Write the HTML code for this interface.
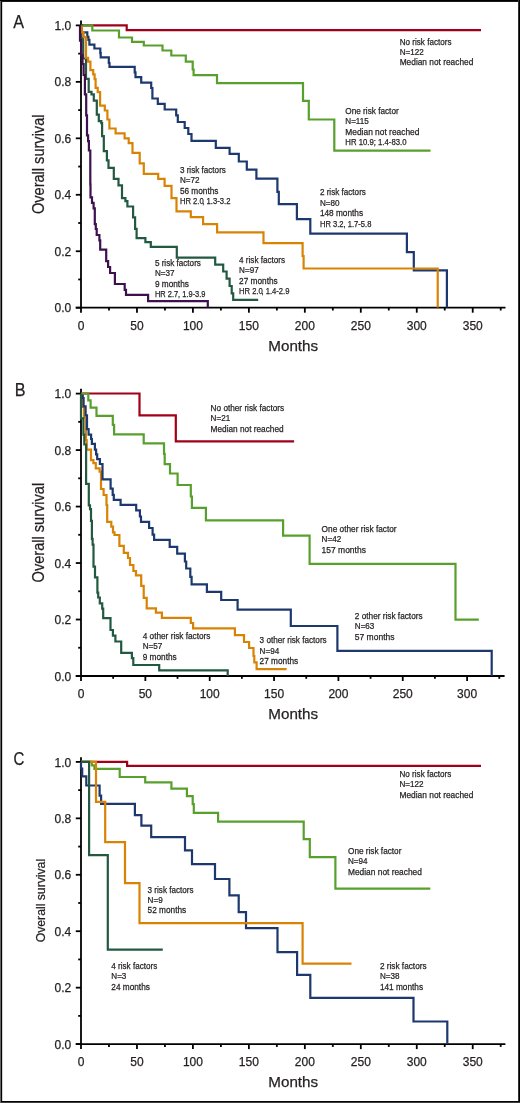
<!DOCTYPE html>
<html><head><meta charset="utf-8"><style>
html,body{margin:0;padding:0;background:#fff;}
body{width:520px;height:1103px;overflow:hidden;position:relative;}
svg{position:absolute;left:0;top:0;will-change:transform;}
svg text{font-family:"Liberation Sans", sans-serif;stroke:#231f20;stroke-width:0.25px;}
</style></head><body>
<svg width="520" height="1103" viewBox="0 0 520 1103">
<line x1="81.0" y1="20.5" x2="81.0" y2="308.59999999999997" stroke="#000" stroke-width="1.8"/>
<line x1="75.8" y1="307.7" x2="505.5" y2="307.7" stroke="#000" stroke-width="1.8"/>
<line x1="75.8" y1="307.70" x2="81.0" y2="307.70" stroke="#000" stroke-width="1.8"/>
<text x="71.3" y="312.30" text-anchor="end" font-size="12" fill="#231f20">0.0</text>
<line x1="78.2" y1="279.47" x2="81.0" y2="279.47" stroke="#000" stroke-width="1.8"/>
<line x1="75.8" y1="251.24" x2="81.0" y2="251.24" stroke="#000" stroke-width="1.8"/>
<text x="71.3" y="255.84" text-anchor="end" font-size="12" fill="#231f20">0.2</text>
<line x1="78.2" y1="223.01" x2="81.0" y2="223.01" stroke="#000" stroke-width="1.8"/>
<line x1="75.8" y1="194.78" x2="81.0" y2="194.78" stroke="#000" stroke-width="1.8"/>
<text x="71.3" y="199.38" text-anchor="end" font-size="12" fill="#231f20">0.4</text>
<line x1="78.2" y1="166.55" x2="81.0" y2="166.55" stroke="#000" stroke-width="1.8"/>
<line x1="75.8" y1="138.32" x2="81.0" y2="138.32" stroke="#000" stroke-width="1.8"/>
<text x="71.3" y="142.92" text-anchor="end" font-size="12" fill="#231f20">0.6</text>
<line x1="78.2" y1="110.09" x2="81.0" y2="110.09" stroke="#000" stroke-width="1.8"/>
<line x1="75.8" y1="81.86" x2="81.0" y2="81.86" stroke="#000" stroke-width="1.8"/>
<text x="71.3" y="86.46" text-anchor="end" font-size="12" fill="#231f20">0.8</text>
<line x1="78.2" y1="53.63" x2="81.0" y2="53.63" stroke="#000" stroke-width="1.8"/>
<line x1="75.8" y1="25.40" x2="81.0" y2="25.40" stroke="#000" stroke-width="1.8"/>
<text x="71.3" y="30.00" text-anchor="end" font-size="12" fill="#231f20">1.0</text>
<line x1="81.00" y1="307.7" x2="81.00" y2="312.7" stroke="#000" stroke-width="1.8"/>
<text x="81.00" y="329.50" text-anchor="middle" font-size="12" fill="#231f20">0</text>
<line x1="108.98" y1="307.7" x2="108.98" y2="310.5" stroke="#000" stroke-width="1.8"/>
<line x1="136.96" y1="307.7" x2="136.96" y2="312.7" stroke="#000" stroke-width="1.8"/>
<text x="136.96" y="329.50" text-anchor="middle" font-size="12" fill="#231f20">50</text>
<line x1="164.94" y1="307.7" x2="164.94" y2="310.5" stroke="#000" stroke-width="1.8"/>
<line x1="192.92" y1="307.7" x2="192.92" y2="312.7" stroke="#000" stroke-width="1.8"/>
<text x="192.92" y="329.50" text-anchor="middle" font-size="12" fill="#231f20">100</text>
<line x1="220.90" y1="307.7" x2="220.90" y2="310.5" stroke="#000" stroke-width="1.8"/>
<line x1="248.88" y1="307.7" x2="248.88" y2="312.7" stroke="#000" stroke-width="1.8"/>
<text x="248.88" y="329.50" text-anchor="middle" font-size="12" fill="#231f20">150</text>
<line x1="276.86" y1="307.7" x2="276.86" y2="310.5" stroke="#000" stroke-width="1.8"/>
<line x1="304.84" y1="307.7" x2="304.84" y2="312.7" stroke="#000" stroke-width="1.8"/>
<text x="304.84" y="329.50" text-anchor="middle" font-size="12" fill="#231f20">200</text>
<line x1="332.82" y1="307.7" x2="332.82" y2="310.5" stroke="#000" stroke-width="1.8"/>
<line x1="360.80" y1="307.7" x2="360.80" y2="312.7" stroke="#000" stroke-width="1.8"/>
<text x="360.80" y="329.50" text-anchor="middle" font-size="12" fill="#231f20">250</text>
<line x1="388.78" y1="307.7" x2="388.78" y2="310.5" stroke="#000" stroke-width="1.8"/>
<line x1="416.76" y1="307.7" x2="416.76" y2="312.7" stroke="#000" stroke-width="1.8"/>
<text x="416.76" y="329.50" text-anchor="middle" font-size="12" fill="#231f20">300</text>
<line x1="444.74" y1="307.7" x2="444.74" y2="310.5" stroke="#000" stroke-width="1.8"/>
<line x1="472.72" y1="307.7" x2="472.72" y2="312.7" stroke="#000" stroke-width="1.8"/>
<text x="472.72" y="329.50" text-anchor="middle" font-size="12" fill="#231f20">350</text>
<line x1="500.70" y1="307.7" x2="500.70" y2="310.5" stroke="#000" stroke-width="1.8"/>
<text x="13.200000000000001" y="28.0" font-size="18" fill="#231f20" textLength="10.8" lengthAdjust="spacingAndGlyphs">A</text>
<text x="293.2" y="350.6" text-anchor="middle" font-size="15.2" fill="#231f20">Months</text>
<text transform="translate(44.0,164.3) rotate(-90)" x="-49.80" font-size="15.6" fill="#231f20" textLength="99.6" lengthAdjust="spacingAndGlyphs">Overall survival</text>
<line x1="81.0" y1="388.8" x2="81.0" y2="676.9" stroke="#000" stroke-width="1.8"/>
<line x1="75.8" y1="676.0" x2="504.6" y2="676.0" stroke="#000" stroke-width="1.8"/>
<line x1="75.8" y1="676.00" x2="81.0" y2="676.00" stroke="#000" stroke-width="1.8"/>
<text x="71.3" y="680.60" text-anchor="end" font-size="12" fill="#231f20">0.0</text>
<line x1="78.2" y1="647.76" x2="81.0" y2="647.76" stroke="#000" stroke-width="1.8"/>
<line x1="75.8" y1="619.52" x2="81.0" y2="619.52" stroke="#000" stroke-width="1.8"/>
<text x="71.3" y="624.12" text-anchor="end" font-size="12" fill="#231f20">0.2</text>
<line x1="78.2" y1="591.28" x2="81.0" y2="591.28" stroke="#000" stroke-width="1.8"/>
<line x1="75.8" y1="563.04" x2="81.0" y2="563.04" stroke="#000" stroke-width="1.8"/>
<text x="71.3" y="567.64" text-anchor="end" font-size="12" fill="#231f20">0.4</text>
<line x1="78.2" y1="534.80" x2="81.0" y2="534.80" stroke="#000" stroke-width="1.8"/>
<line x1="75.8" y1="506.56" x2="81.0" y2="506.56" stroke="#000" stroke-width="1.8"/>
<text x="71.3" y="511.16" text-anchor="end" font-size="12" fill="#231f20">0.6</text>
<line x1="78.2" y1="478.32" x2="81.0" y2="478.32" stroke="#000" stroke-width="1.8"/>
<line x1="75.8" y1="450.08" x2="81.0" y2="450.08" stroke="#000" stroke-width="1.8"/>
<text x="71.3" y="454.68" text-anchor="end" font-size="12" fill="#231f20">0.8</text>
<line x1="78.2" y1="421.84" x2="81.0" y2="421.84" stroke="#000" stroke-width="1.8"/>
<line x1="75.8" y1="393.60" x2="81.0" y2="393.60" stroke="#000" stroke-width="1.8"/>
<text x="71.3" y="398.20" text-anchor="end" font-size="12" fill="#231f20">1.0</text>
<line x1="81.00" y1="676.0" x2="81.00" y2="681.0" stroke="#000" stroke-width="1.8"/>
<text x="81.00" y="697.80" text-anchor="middle" font-size="12" fill="#231f20">0</text>
<line x1="113.17" y1="676.0" x2="113.17" y2="678.8" stroke="#000" stroke-width="1.8"/>
<line x1="145.35" y1="676.0" x2="145.35" y2="681.0" stroke="#000" stroke-width="1.8"/>
<text x="145.35" y="697.80" text-anchor="middle" font-size="12" fill="#231f20">50</text>
<line x1="177.52" y1="676.0" x2="177.52" y2="678.8" stroke="#000" stroke-width="1.8"/>
<line x1="209.70" y1="676.0" x2="209.70" y2="681.0" stroke="#000" stroke-width="1.8"/>
<text x="209.70" y="697.80" text-anchor="middle" font-size="12" fill="#231f20">100</text>
<line x1="241.88" y1="676.0" x2="241.88" y2="678.8" stroke="#000" stroke-width="1.8"/>
<line x1="274.05" y1="676.0" x2="274.05" y2="681.0" stroke="#000" stroke-width="1.8"/>
<text x="274.05" y="697.80" text-anchor="middle" font-size="12" fill="#231f20">150</text>
<line x1="306.23" y1="676.0" x2="306.23" y2="678.8" stroke="#000" stroke-width="1.8"/>
<line x1="338.40" y1="676.0" x2="338.40" y2="681.0" stroke="#000" stroke-width="1.8"/>
<text x="338.40" y="697.80" text-anchor="middle" font-size="12" fill="#231f20">200</text>
<line x1="370.57" y1="676.0" x2="370.57" y2="678.8" stroke="#000" stroke-width="1.8"/>
<line x1="402.75" y1="676.0" x2="402.75" y2="681.0" stroke="#000" stroke-width="1.8"/>
<text x="402.75" y="697.80" text-anchor="middle" font-size="12" fill="#231f20">250</text>
<line x1="434.92" y1="676.0" x2="434.92" y2="678.8" stroke="#000" stroke-width="1.8"/>
<line x1="467.10" y1="676.0" x2="467.10" y2="681.0" stroke="#000" stroke-width="1.8"/>
<text x="467.10" y="697.80" text-anchor="middle" font-size="12" fill="#231f20">300</text>
<line x1="499.27" y1="676.0" x2="499.27" y2="678.8" stroke="#000" stroke-width="1.8"/>
<text x="14.8" y="396.2" font-size="18" fill="#231f20" textLength="10.8" lengthAdjust="spacingAndGlyphs">B</text>
<text x="293.2" y="719.1" text-anchor="middle" font-size="15.2" fill="#231f20">Months</text>
<text transform="translate(44.0,532.6) rotate(-90)" x="-49.80" font-size="15.6" fill="#231f20" textLength="99.6" lengthAdjust="spacingAndGlyphs">Overall survival</text>
<line x1="81.0" y1="757.3" x2="81.0" y2="1045.0" stroke="#000" stroke-width="1.8"/>
<line x1="75.8" y1="1044.1" x2="505.4" y2="1044.1" stroke="#000" stroke-width="1.8"/>
<line x1="75.8" y1="1044.10" x2="81.0" y2="1044.10" stroke="#000" stroke-width="1.8"/>
<text x="71.3" y="1048.70" text-anchor="end" font-size="12" fill="#231f20">0.0</text>
<line x1="78.2" y1="1015.88" x2="81.0" y2="1015.88" stroke="#000" stroke-width="1.8"/>
<line x1="75.8" y1="987.66" x2="81.0" y2="987.66" stroke="#000" stroke-width="1.8"/>
<text x="71.3" y="992.26" text-anchor="end" font-size="12" fill="#231f20">0.2</text>
<line x1="78.2" y1="959.44" x2="81.0" y2="959.44" stroke="#000" stroke-width="1.8"/>
<line x1="75.8" y1="931.22" x2="81.0" y2="931.22" stroke="#000" stroke-width="1.8"/>
<text x="71.3" y="935.82" text-anchor="end" font-size="12" fill="#231f20">0.4</text>
<line x1="78.2" y1="903.00" x2="81.0" y2="903.00" stroke="#000" stroke-width="1.8"/>
<line x1="75.8" y1="874.78" x2="81.0" y2="874.78" stroke="#000" stroke-width="1.8"/>
<text x="71.3" y="879.38" text-anchor="end" font-size="12" fill="#231f20">0.6</text>
<line x1="78.2" y1="846.56" x2="81.0" y2="846.56" stroke="#000" stroke-width="1.8"/>
<line x1="75.8" y1="818.34" x2="81.0" y2="818.34" stroke="#000" stroke-width="1.8"/>
<text x="71.3" y="822.94" text-anchor="end" font-size="12" fill="#231f20">0.8</text>
<line x1="78.2" y1="790.12" x2="81.0" y2="790.12" stroke="#000" stroke-width="1.8"/>
<line x1="75.8" y1="761.90" x2="81.0" y2="761.90" stroke="#000" stroke-width="1.8"/>
<text x="71.3" y="766.50" text-anchor="end" font-size="12" fill="#231f20">1.0</text>
<line x1="81.00" y1="1044.1" x2="81.00" y2="1049.1" stroke="#000" stroke-width="1.8"/>
<text x="81.00" y="1065.90" text-anchor="middle" font-size="12" fill="#231f20">0</text>
<line x1="108.98" y1="1044.1" x2="108.98" y2="1046.8999999999999" stroke="#000" stroke-width="1.8"/>
<line x1="136.96" y1="1044.1" x2="136.96" y2="1049.1" stroke="#000" stroke-width="1.8"/>
<text x="136.96" y="1065.90" text-anchor="middle" font-size="12" fill="#231f20">50</text>
<line x1="164.94" y1="1044.1" x2="164.94" y2="1046.8999999999999" stroke="#000" stroke-width="1.8"/>
<line x1="192.92" y1="1044.1" x2="192.92" y2="1049.1" stroke="#000" stroke-width="1.8"/>
<text x="192.92" y="1065.90" text-anchor="middle" font-size="12" fill="#231f20">100</text>
<line x1="220.90" y1="1044.1" x2="220.90" y2="1046.8999999999999" stroke="#000" stroke-width="1.8"/>
<line x1="248.88" y1="1044.1" x2="248.88" y2="1049.1" stroke="#000" stroke-width="1.8"/>
<text x="248.88" y="1065.90" text-anchor="middle" font-size="12" fill="#231f20">150</text>
<line x1="276.86" y1="1044.1" x2="276.86" y2="1046.8999999999999" stroke="#000" stroke-width="1.8"/>
<line x1="304.84" y1="1044.1" x2="304.84" y2="1049.1" stroke="#000" stroke-width="1.8"/>
<text x="304.84" y="1065.90" text-anchor="middle" font-size="12" fill="#231f20">200</text>
<line x1="332.82" y1="1044.1" x2="332.82" y2="1046.8999999999999" stroke="#000" stroke-width="1.8"/>
<line x1="360.80" y1="1044.1" x2="360.80" y2="1049.1" stroke="#000" stroke-width="1.8"/>
<text x="360.80" y="1065.90" text-anchor="middle" font-size="12" fill="#231f20">250</text>
<line x1="388.78" y1="1044.1" x2="388.78" y2="1046.8999999999999" stroke="#000" stroke-width="1.8"/>
<line x1="416.76" y1="1044.1" x2="416.76" y2="1049.1" stroke="#000" stroke-width="1.8"/>
<text x="416.76" y="1065.90" text-anchor="middle" font-size="12" fill="#231f20">300</text>
<line x1="444.74" y1="1044.1" x2="444.74" y2="1046.8999999999999" stroke="#000" stroke-width="1.8"/>
<line x1="472.72" y1="1044.1" x2="472.72" y2="1049.1" stroke="#000" stroke-width="1.8"/>
<text x="472.72" y="1065.90" text-anchor="middle" font-size="12" fill="#231f20">350</text>
<line x1="500.70" y1="1044.1" x2="500.70" y2="1046.8999999999999" stroke="#000" stroke-width="1.8"/>
<text x="13.6" y="764.9" font-size="18" fill="#231f20" textLength="10.8" lengthAdjust="spacingAndGlyphs">C</text>
<text x="293.2" y="1087.3" text-anchor="middle" font-size="15.2" fill="#231f20">Months</text>
<text transform="translate(44.7,900.6) rotate(-90)" x="-41.70" font-size="12.8" fill="#231f20" textLength="83.4" lengthAdjust="spacingAndGlyphs">Overall survival</text>
<path d="M81.00,25.40 L126.70,25.40 L126.70,30.10 L481.00,30.10" fill="none" stroke="#a00018" stroke-width="2.2" stroke-linejoin="miter" stroke-linecap="butt"/>
<path d="M81.00,25.30 L92.30,25.30 L92.30,30.50 L119.00,30.50 L119.00,37.50 L132.00,37.50 L132.00,41.80 L143.80,41.80 L143.80,45.50 L162.50,45.50 L162.50,50.50 L171.30,50.50 L171.30,55.50 L185.80,55.50 L185.80,61.60 L192.70,61.60 L192.70,69.50 L193.60,69.50 L193.60,75.10 L217.00,75.10 L217.00,83.20 L303.00,83.20 L303.00,100.80 L308.80,100.80 L308.80,119.50 L334.30,119.50 L334.30,150.60 L430.50,150.60" fill="none" stroke="#58a02d" stroke-width="2.2" stroke-linejoin="miter" stroke-linecap="butt"/>
<path d="M81.00,25.40 L81.50,25.40 L81.50,32.30 L87.30,32.30 L87.30,36.80 L88.40,36.80 L88.40,39.90 L89.40,39.90 L89.40,44.70 L94.40,44.70 L94.40,48.50 L100.30,48.50 L100.30,53.20 L100.70,53.20 L100.70,57.40 L108.80,57.40 L108.80,63.00 L109.50,63.00 L109.50,66.80 L134.70,66.80 L134.70,72.30 L135.50,72.30 L135.50,77.20 L141.20,77.20 L141.20,82.60 L151.20,82.60 L151.20,88.00 L152.40,88.00 L152.40,98.50 L157.80,98.50 L157.80,103.80 L164.70,103.80 L164.70,109.50 L176.20,109.50 L176.20,115.40 L177.80,115.40 L177.80,122.00 L184.70,122.00 L184.70,128.00 L188.30,128.00 L188.30,134.00 L191.50,134.00 L191.50,140.80 L215.80,140.80 L215.80,147.80 L229.60,147.80 L229.60,153.80 L238.80,153.80 L238.80,161.50 L246.80,161.50 L246.80,169.60 L256.40,169.60 L256.40,178.60 L277.40,178.60 L277.40,191.80 L278.80,191.80 L278.80,204.20 L296.90,204.20 L296.90,219.20 L310.30,219.20 L310.30,233.60 L406.90,233.60 L406.90,252.20 L413.80,252.20 L413.80,270.40 L446.90,270.40 L446.90,307.60" fill="none" stroke="#1c386e" stroke-width="2.2" stroke-linejoin="miter" stroke-linecap="butt"/>
<path d="M81.20,25.40 L81.50,25.40 L81.50,38.00 L83.20,38.00 L83.20,58.50 L86.00,58.50 L86.00,78.80 L88.70,78.80 L88.70,91.90 L91.50,91.90 L91.50,94.30 L93.80,94.30 L93.80,100.70 L96.80,100.70 L96.80,114.60 L98.80,114.60 L98.80,121.10 L101.30,121.10 L101.30,123.10 L102.10,123.10 L102.10,136.20 L103.80,136.20 L103.80,151.20 L106.90,151.20 L106.90,160.40 L108.50,160.40 L108.50,167.80 L113.80,167.80 L113.80,178.80 L118.50,178.80 L118.50,185.30 L122.00,185.30 L122.00,198.10 L125.40,198.10 L125.40,201.20 L127.40,201.20 L127.40,206.50 L133.10,206.50 L133.10,217.30 L135.10,217.30 L135.10,228.80 L136.60,228.80 L136.60,238.10 L145.40,238.10 L145.40,242.20 L150.80,242.20 L150.80,246.80 L176.80,246.80 L176.80,257.60 L215.20,257.60 L215.20,264.60 L223.20,264.60 L223.20,271.50 L226.60,271.50 L226.60,278.60 L229.60,278.60 L229.60,286.00 L231.70,286.00 L231.70,293.40 L233.20,293.40 L233.20,299.80 L258.20,299.80" fill="none" stroke="#235841" stroke-width="2.2" stroke-linejoin="miter" stroke-linecap="butt"/>
<path d="M81.80,25.40 L81.80,25.40 L81.80,32.30 L83.60,32.30 L83.60,37.10 L86.00,37.10 L86.00,57.80 L88.00,57.80 L88.00,61.60 L90.40,61.60 L90.40,70.20 L93.20,70.20 L93.20,74.30 L94.60,74.30 L94.60,79.20 L95.60,79.20 L95.60,87.80 L97.70,87.80 L97.70,92.10 L100.10,92.10 L100.10,105.60 L104.80,105.60 L104.80,110.50 L107.40,110.50 L107.40,119.50 L109.40,119.50 L109.40,128.50 L115.60,128.50 L115.60,133.40 L124.60,133.40 L124.60,138.30 L128.70,138.30 L128.70,143.20 L132.50,143.20 L132.50,152.80 L139.70,152.80 L139.70,163.30 L143.80,163.30 L143.80,173.90 L158.20,173.90 L158.20,178.80 L164.60,178.80 L164.60,185.80 L171.50,185.80 L171.50,198.10 L174.80,198.10 L174.80,198.10 L176.50,198.10 L176.50,211.30 L190.80,211.30 L190.80,217.10 L203.10,217.10 L203.10,224.20 L217.10,224.20 L217.10,232.30 L263.50,232.30 L263.50,243.10 L302.60,243.10 L302.60,256.00 L303.60,256.00 L303.60,268.50 L437.70,268.50 L437.70,307.60" fill="none" stroke="#d98305" stroke-width="2.2" stroke-linejoin="miter" stroke-linecap="butt"/>
<path d="M80.00,25.40 L80.00,25.40 L80.00,40.60 L81.10,40.60 L81.10,55.00 L82.50,55.00 L82.50,64.00 L83.60,64.00 L83.60,75.00 L84.90,75.00 L84.90,94.30 L86.20,94.30 L86.20,115.40 L87.00,115.40 L87.00,135.40 L88.10,135.40 L88.10,141.10 L88.90,141.10 L88.90,150.50 L90.30,150.50 L90.30,184.40 L90.50,184.40 L90.50,197.40 L92.00,197.40 L92.00,202.90 L93.60,202.90 L93.60,208.30 L94.80,208.30 L94.80,224.10 L95.80,224.10 L95.80,229.00 L96.70,229.00 L96.70,235.00 L99.40,235.00 L99.40,240.40 L100.20,240.40 L100.20,249.60 L106.20,249.60 L106.20,261.10 L108.10,261.10 L108.10,267.00 L110.10,267.00 L110.10,273.00 L114.90,273.00 L114.90,284.00 L124.70,284.00 L124.70,289.80 L126.00,289.80 L126.00,294.80 L148.10,294.80 L148.10,301.20 L207.80,301.20 L207.80,307.60" fill="none" stroke="#3e1050" stroke-width="2.2" stroke-linejoin="miter" stroke-linecap="butt"/>
<path d="M81.00,393.50 L139.50,393.50 L139.50,415.30 L175.80,415.30 L175.80,441.30 L294.10,441.30" fill="none" stroke="#a00018" stroke-width="2.2" stroke-linejoin="miter" stroke-linecap="butt"/>
<path d="M81.00,393.50 L88.30,393.50 L88.30,400.40 L90.60,400.40 L90.60,407.60 L96.50,407.60 L96.50,415.90 L112.80,415.90 L112.80,424.90 L114.10,424.90 L114.10,434.30 L143.70,434.30 L143.70,443.40 L164.00,443.40 L164.00,453.80 L164.70,453.80 L164.70,464.20 L170.00,464.20 L170.00,473.50 L177.60,473.50 L177.60,485.00 L190.80,485.00 L190.80,496.50 L191.90,496.50 L191.90,507.80 L205.90,507.80 L205.90,520.40 L283.10,520.40 L283.10,535.70 L309.60,535.70 L309.60,563.90 L455.50,563.90 L455.50,619.60 L478.80,619.60" fill="none" stroke="#58a02d" stroke-width="2.2" stroke-linejoin="miter" stroke-linecap="butt"/>
<path d="M82.40,393.60 L82.40,393.60 L82.40,407.00 L84.00,407.00 L84.00,417.50 L85.90,417.50 L85.90,440.00 L86.70,440.00 L86.70,449.60 L91.00,449.60 L91.00,460.20 L93.40,460.20 L93.40,463.10 L95.80,463.10 L95.80,468.40 L99.60,468.40 L99.60,471.70 L101.00,471.70 L101.00,489.00 L103.60,489.00 L103.60,495.00 L106.50,495.00 L106.50,505.00 L107.20,505.00 L107.20,521.80 L111.30,521.80 L111.30,526.70 L113.00,526.70 L113.00,532.30 L114.50,532.30 L114.50,535.00 L119.40,535.00 L119.40,545.80 L123.80,545.80 L123.80,552.80 L128.00,552.80 L128.00,558.00 L130.00,558.00 L130.00,565.00 L133.40,565.00 L133.40,571.00 L136.00,571.00 L136.00,575.40 L141.20,575.40 L141.20,585.80 L143.70,585.80 L143.70,597.90 L146.70,597.90 L146.70,608.30 L155.90,608.30 L155.90,612.60 L161.90,612.60 L161.90,617.80 L190.80,617.80 L190.80,623.00 L193.10,623.00 L193.10,628.40 L234.90,628.40 L234.90,635.10 L244.00,635.10 L244.00,642.00 L249.10,642.00 L249.10,648.00 L253.50,648.00 L253.50,656.00 L254.30,656.00 L254.30,662.30 L256.60,662.30 L256.60,669.10 L286.60,669.10" fill="none" stroke="#d98305" stroke-width="2.2" stroke-linejoin="miter" stroke-linecap="butt"/>
<path d="M82.70,394.50 L82.70,394.50 L82.70,398.00 L83.60,398.00 L83.60,406.30 L85.60,406.30 L85.60,415.30 L87.00,415.30 L87.00,429.20 L88.60,429.20 L88.60,434.70 L91.10,434.70 L91.10,439.00 L91.90,439.00 L91.90,443.90 L94.90,443.90 L94.90,449.60 L96.10,449.60 L96.10,454.40 L97.20,454.40 L97.20,459.20 L99.90,459.20 L99.90,464.00 L102.50,464.00 L102.50,479.30 L110.60,479.30 L110.60,488.70 L112.70,488.70 L112.70,494.90 L113.80,494.90 L113.80,499.80 L120.60,499.80 L120.60,504.80 L136.20,504.80 L136.20,510.40 L139.90,510.40 L139.90,516.50 L141.00,516.50 L141.00,521.80 L149.10,521.80 L149.10,528.00 L152.60,528.00 L152.60,534.70 L154.10,534.70 L154.10,539.90 L169.70,539.90 L169.70,546.80 L177.20,546.80 L177.20,553.70 L184.90,553.70 L184.90,561.50 L186.20,561.50 L186.20,568.50 L190.30,568.50 L190.30,576.80 L191.60,576.80 L191.60,584.30 L206.90,584.30 L206.90,591.90 L221.20,591.90 L221.20,600.00 L237.60,600.00 L237.60,609.70 L290.80,609.70 L290.80,626.00 L337.40,626.00 L337.40,650.80 L491.70,650.80 L491.70,676.00" fill="none" stroke="#1c386e" stroke-width="2.2" stroke-linejoin="miter" stroke-linecap="butt"/>
<path d="M81.00,393.60 L81.00,393.60 L81.00,418.30 L83.40,418.30 L83.40,434.70 L84.30,434.70 L84.30,444.50 L86.10,444.50 L86.10,483.80 L88.80,483.80 L88.80,505.40 L90.00,505.40 L90.00,509.20 L91.00,509.20 L91.00,520.80 L91.90,520.80 L91.90,538.80 L92.60,538.80 L92.60,544.60 L93.50,544.60 L93.50,566.70 L95.00,566.70 L95.00,577.30 L97.40,577.30 L97.40,592.70 L98.20,592.70 L98.20,597.50 L99.80,597.50 L99.80,603.30 L102.20,603.30 L102.20,608.60 L103.20,608.60 L103.20,618.20 L110.50,618.20 L110.50,630.00 L112.90,630.00 L112.90,635.60 L115.40,635.60 L115.40,641.50 L121.20,641.50 L121.20,652.80 L131.90,652.80 L131.90,658.10 L133.30,658.10 L133.30,665.00 L159.20,665.00 L159.20,670.30 L227.70,670.30 L227.70,676.00" fill="none" stroke="#235841" stroke-width="2.2" stroke-linejoin="miter" stroke-linecap="butt"/>
<path d="M81.00,761.80 L127.10,761.80 L127.10,765.80 L481.00,765.80" fill="none" stroke="#a00018" stroke-width="2.2" stroke-linejoin="miter" stroke-linecap="butt"/>
<path d="M81.00,761.80 L91.80,761.80 L91.80,765.30 L94.40,765.30 L94.40,768.90 L119.70,768.90 L119.70,777.00 L145.20,777.00 L145.20,782.40 L171.40,782.40 L171.40,788.70 L186.90,788.70 L186.90,796.20 L192.70,796.20 L192.70,804.20 L193.80,804.20 L193.80,812.80 L218.10,812.80 L218.10,821.60 L303.70,821.60 L303.70,839.20 L309.80,839.20 L309.80,857.10 L335.40,857.10 L335.40,888.70 L430.30,888.70" fill="none" stroke="#58a02d" stroke-width="2.2" stroke-linejoin="miter" stroke-linecap="butt"/>
<path d="M81.00,761.80 L81.00,761.80 L81.00,768.50 L82.20,768.50 L82.20,776.30 L86.30,776.30 L86.30,785.50 L99.60,785.50 L99.60,795.60 L101.10,795.60 L101.10,803.90 L134.90,803.90 L134.90,815.10 L141.40,815.10 L141.40,825.70 L151.20,825.70 L151.20,837.10 L185.00,837.10 L185.00,850.40 L192.00,850.40 L192.00,864.20 L215.00,864.20 L215.00,879.00 L229.40,879.00 L229.40,895.40 L238.70,895.40 L238.70,912.10 L246.00,912.10 L246.00,928.10 L277.50,928.10 L277.50,952.10 L297.10,952.10 L297.10,974.80 L310.30,974.80 L310.30,997.90 L413.50,997.90 L413.50,1021.50 L447.30,1021.50 L447.30,1044.10" fill="none" stroke="#1c386e" stroke-width="2.2" stroke-linejoin="miter" stroke-linecap="butt"/>
<path d="M81.00,761.80 L96.00,761.80 L96.00,801.90 L105.20,801.90 L105.20,842.10 L125.00,842.10 L125.00,883.10 L139.50,883.10 L139.50,923.20 L302.60,923.20 L302.60,963.70 L351.50,963.70" fill="none" stroke="#d98305" stroke-width="2.2" stroke-linejoin="miter" stroke-linecap="butt"/>
<path d="M81.00,761.80 L89.10,761.80 L89.10,855.20 L107.80,855.20 L107.80,949.70 L162.80,949.70" fill="none" stroke="#235841" stroke-width="2.2" stroke-linejoin="miter" stroke-linecap="butt"/>
<text x="399.7" y="44.80" font-size="9.0" fill="#231f20" textLength="51.8" lengthAdjust="spacingAndGlyphs">No risk factors</text>
<text x="399.7" y="55.10" font-size="9.0" fill="#231f20" transform-origin="399.7 0" style="transform:scaleX(0.9)">N=122</text>
<text x="399.7" y="65.40" font-size="9.0" fill="#231f20" textLength="73.6" lengthAdjust="spacingAndGlyphs">Median not reached</text>
<text x="345.3" y="113.75" font-size="9.0" fill="#231f20" textLength="53.4" lengthAdjust="spacingAndGlyphs">One risk factor</text>
<text x="345.3" y="124.17" font-size="9.0" fill="#231f20" transform-origin="345.3 0" style="transform:scaleX(0.9)">N=115</text>
<text x="345.3" y="134.59" font-size="9.0" fill="#231f20" textLength="74.1" lengthAdjust="spacingAndGlyphs">Median not reached</text>
<text x="345.3" y="145.01" font-size="9.0" fill="#231f20" textLength="61.2" lengthAdjust="spacingAndGlyphs">HR 10.9; 1.4-83.0</text>
<text x="179.9" y="172.70" font-size="9.0" fill="#231f20" textLength="46.0" lengthAdjust="spacingAndGlyphs">3 risk factors</text>
<text x="179.9" y="183.25" font-size="9.0" fill="#231f20" transform-origin="179.9 0" style="transform:scaleX(0.9)">N=72</text>
<text x="179.9" y="193.80" font-size="9.0" fill="#231f20" transform-origin="179.9 0" style="transform:scaleX(0.92)">56 months</text>
<text x="179.9" y="204.35" font-size="9.0" fill="#231f20" textLength="50.5" lengthAdjust="spacingAndGlyphs">HR 2.0<tspan dx="-1.7">,</tspan> 1.3-3.2</text>
<text x="319.9" y="195.40" font-size="9.0" fill="#231f20" textLength="46.0" lengthAdjust="spacingAndGlyphs">2 risk factors</text>
<text x="319.9" y="205.93" font-size="9.0" fill="#231f20" transform-origin="319.9 0" style="transform:scaleX(0.9)">N=80</text>
<text x="319.9" y="216.46" font-size="9.0" fill="#231f20" transform-origin="319.9 0" style="transform:scaleX(0.92)">148 months</text>
<text x="319.9" y="226.99" font-size="9.0" fill="#231f20" textLength="51.5" lengthAdjust="spacingAndGlyphs">HR 3.2, 1.7-5.8</text>
<text x="154.9" y="265.90" font-size="9.0" fill="#231f20" textLength="46.0" lengthAdjust="spacingAndGlyphs">5 risk factors</text>
<text x="154.9" y="276.30" font-size="9.0" fill="#231f20" transform-origin="154.9 0" style="transform:scaleX(0.9)">N=37</text>
<text x="154.9" y="286.70" font-size="9.0" fill="#231f20" transform-origin="154.9 0" style="transform:scaleX(0.92)">9 months</text>
<text x="154.9" y="297.10" font-size="9.0" fill="#231f20" textLength="50.6" lengthAdjust="spacingAndGlyphs">HR 2.7, 1.9-3.9</text>
<text x="239.1" y="262.50" font-size="9.0" fill="#231f20" textLength="46.0" lengthAdjust="spacingAndGlyphs">4 risk factors</text>
<text x="239.1" y="273.10" font-size="9.0" fill="#231f20" transform-origin="239.1 0" style="transform:scaleX(0.9)">N=97</text>
<text x="239.1" y="283.70" font-size="9.0" fill="#231f20" transform-origin="239.1 0" style="transform:scaleX(0.92)">27 months</text>
<text x="239.1" y="294.30" font-size="9.0" fill="#231f20" textLength="50.3" lengthAdjust="spacingAndGlyphs">HR 2.0<tspan dx="-1.7">,</tspan> 1.4-2.9</text>
<text x="210.6" y="410.90" font-size="9.0" fill="#231f20" textLength="73.5" lengthAdjust="spacingAndGlyphs">No other risk factors</text>
<text x="210.6" y="421.30" font-size="9.0" fill="#231f20" transform-origin="210.6 0" style="transform:scaleX(0.9)">N=21</text>
<text x="210.6" y="431.70" font-size="9.0" fill="#231f20" textLength="73.0" lengthAdjust="spacingAndGlyphs">Median not reached</text>
<text x="321.6" y="531.80" font-size="9.0" fill="#231f20" textLength="75.0" lengthAdjust="spacingAndGlyphs">One other risk factor</text>
<text x="321.6" y="542.35" font-size="9.0" fill="#231f20" transform-origin="321.6 0" style="transform:scaleX(0.9)">N=42</text>
<text x="321.6" y="552.90" font-size="9.0" fill="#231f20" textLength="44.3" lengthAdjust="spacingAndGlyphs">157 months</text>
<text x="354.8" y="618.60" font-size="9.0" fill="#231f20" textLength="67.8" lengthAdjust="spacingAndGlyphs">2 other risk factors</text>
<text x="354.8" y="629.20" font-size="9.0" fill="#231f20" transform-origin="354.8 0" style="transform:scaleX(0.9)">N=63</text>
<text x="354.8" y="639.80" font-size="9.0" fill="#231f20" textLength="39.7" lengthAdjust="spacingAndGlyphs">57 months</text>
<text x="142.7" y="638.70" font-size="9.0" fill="#231f20" textLength="67.8" lengthAdjust="spacingAndGlyphs">4 other risk factors</text>
<text x="142.7" y="649.35" font-size="9.0" fill="#231f20" transform-origin="142.7 0" style="transform:scaleX(0.9)">N=57</text>
<text x="142.7" y="660.00" font-size="9.0" fill="#231f20" transform-origin="142.7 0" style="transform:scaleX(0.92)">9 months</text>
<text x="259.6" y="642.90" font-size="9.0" fill="#231f20" textLength="67.1" lengthAdjust="spacingAndGlyphs">3 other risk factors</text>
<text x="259.6" y="653.65" font-size="9.0" fill="#231f20" transform-origin="259.6 0" style="transform:scaleX(0.9)">N=94</text>
<text x="259.6" y="664.40" font-size="9.0" fill="#231f20" transform-origin="259.6 0" style="transform:scaleX(0.92)">27 months</text>
<text x="399.5" y="776.80" font-size="9.0" fill="#231f20" textLength="51.8" lengthAdjust="spacingAndGlyphs">No risk factors</text>
<text x="399.5" y="787.20" font-size="9.0" fill="#231f20" transform-origin="399.5 0" style="transform:scaleX(0.9)">N=122</text>
<text x="399.5" y="797.60" font-size="9.0" fill="#231f20" textLength="73.9" lengthAdjust="spacingAndGlyphs">Median not reached</text>
<text x="348.0" y="853.80" font-size="9.0" fill="#231f20" textLength="53.4" lengthAdjust="spacingAndGlyphs">One risk factor</text>
<text x="348.0" y="864.20" font-size="9.0" fill="#231f20" transform-origin="348.0 0" style="transform:scaleX(0.9)">N=94</text>
<text x="348.0" y="874.60" font-size="9.0" fill="#231f20" textLength="73.9" lengthAdjust="spacingAndGlyphs">Median not reached</text>
<text x="147.6" y="892.90" font-size="9.0" fill="#231f20" textLength="45.9" lengthAdjust="spacingAndGlyphs">3 risk factors</text>
<text x="147.6" y="903.20" font-size="9.0" fill="#231f20" transform-origin="147.6 0" style="transform:scaleX(0.9)">N=9</text>
<text x="147.6" y="913.50" font-size="9.0" fill="#231f20" transform-origin="147.6 0" style="transform:scaleX(0.92)">52 months</text>
<text x="111.3" y="968.50" font-size="9.0" fill="#231f20" textLength="45.9" lengthAdjust="spacingAndGlyphs">4 risk factors</text>
<text x="111.3" y="979.10" font-size="9.0" fill="#231f20" transform-origin="111.3 0" style="transform:scaleX(0.9)">N=3</text>
<text x="111.3" y="989.70" font-size="9.0" fill="#231f20" transform-origin="111.3 0" style="transform:scaleX(0.92)">24 months</text>
<text x="379.9" y="968.50" font-size="9.0" fill="#231f20" textLength="46.7" lengthAdjust="spacingAndGlyphs">2 risk factors</text>
<text x="379.9" y="979.10" font-size="9.0" fill="#231f20" transform-origin="379.9 0" style="transform:scaleX(0.9)">N=38</text>
<text x="379.9" y="989.70" font-size="9.0" fill="#231f20" transform-origin="379.9 0" style="transform:scaleX(0.92)">141 months</text>
</svg>
<div style="position:absolute;left:0;top:0;width:1px;height:1103px;background:#666"></div>
<div style="position:absolute;left:1px;top:0;width:1px;height:1103px;background:#000"></div>
<div style="position:absolute;left:2px;top:2px;width:1px;height:1099px;background:#d4d4d4"></div>
<div style="position:absolute;left:0;top:0;width:520px;height:1px;background:#000"></div>
<div style="position:absolute;left:1px;top:1px;width:519px;height:1px;background:#1a1a1a"></div>
<div style="position:absolute;left:518px;top:0;width:1px;height:1103px;background:#333"></div>
<div style="position:absolute;left:519px;top:0;width:1px;height:1103px;background:#000"></div>
<div style="position:absolute;left:1px;top:1101px;width:519px;height:1px;background:#050505"></div>
<div style="position:absolute;left:1px;top:1102px;width:519px;height:1px;background:#3c3c3c"></div>
</body></html>
